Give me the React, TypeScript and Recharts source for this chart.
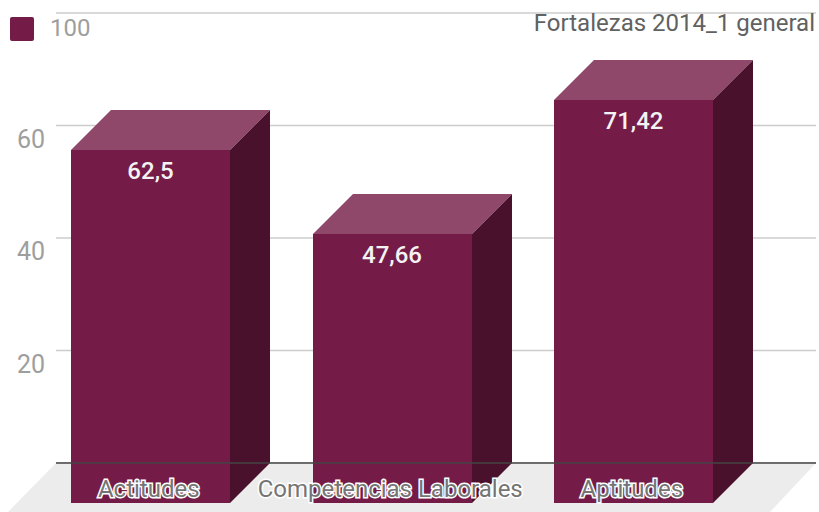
import { BarChart, Bar, XAxis, YAxis, CartesianGrid, LabelList, Legend } from 'recharts'

const categories = ['Actitudes', 'Competencias Laborales', 'Aptitudes']
const values = [62.5, 47.66, 71.42]
const yTicks = [0, 20, 40, 60, 80]
const yTickLabels = ['20', '40', '60']
const seriesName = '100'
const title = 'Fortalezas 2014_1 general'

const data = categories.map((name, i) => ({ name, value: values[i] }))

const FONT = 'Roboto, sans-serif'
const DEPTH = 40
const FRONT = '#741b47'
const TOP = '#8f476a'
const SIDE = '#4a112d'

// 3D look: the scale gives the back plane, front face is pushed down-left by DEPTH
function Bar3D({ x, y, width, height }: any) {
  // snap to whole pixels, otherwise a light seam shows between the faces
  const bx = Math.round(x)
  const by = Math.round(y) - 1
  const base = Math.round(y + height)
  const w = Math.round(width)
  const fx = bx - DEPTH
  const fy = by + DEPTH
  const r = fx + w
  return (
    <g>
      <polygon points={`${fx},${fy} ${bx},${by} ${bx + w},${by} ${r},${fy}`} fill={TOP} />
      <polygon points={`${r},${fy} ${bx + w},${by} ${bx + w},${base} ${r},${base + DEPTH}`} fill={SIDE} />
      <rect x={fx} y={fy} width={w} height={base - by} fill={FRONT} />
    </g>
  )
}

function ValueLabel({ x, y, width, value }: any) {
  return (
    <text
      x={x - DEPTH + width / 2}
      y={y + DEPTH + 28}
      textAnchor="middle"
      fontFamily={FONT}
      fontWeight={500}
      fontSize={24}
      fill="#f3f3f3"
    >
      {String(value).replace('.', ',')}
    </text>
  )
}

function CategoryTick({ x, payload }: any) {
  return (
    <text
      x={x - DEPTH - 2}
      y={463 + 34}
      textAnchor="middle"
      fontFamily={FONT}
      fontSize={24}
      fill="#757575"
      stroke="#ffffff"
      strokeWidth={3}
      paintOrder="stroke"
    >
      {payload.value}
    </text>
  )
}

function ValueTick({ y, payload }: any) {
  const label = String(payload.value)
  if (!yTickLabels.includes(label)) return null
  return (
    <text x={45} y={y + 22} textAnchor="end" fontFamily={FONT} fontSize={25} fill="#9e9e9e">
      {label}
    </text>
  )
}

function LegendBox() {
  return (
    <div style={{ position: 'relative', width: 100, height: 0 }}>
      <div style={{ position: 'absolute', left: 10, top: 17, width: 24, height: 24, borderRadius: 2, background: FRONT }} />
      <div style={{ position: 'absolute', left: 50, top: 15, fontFamily: FONT, fontSize: 24, lineHeight: '26px', color: '#9e9e9e' }}>
        {seriesName}
      </div>
    </div>
  )
}

export default function App() {
  return (
    <div style={{ position: 'absolute', left: 0, top: 0, width: 819, height: 512, overflow: 'hidden', background: '#fff' }}>
      <BarChart
        width={819}
        height={512}
        data={data}
        margin={{ top: 13, right: 3, bottom: 48, left: 0 }}
      >
        <polygon points="56,463 816,463 770,512 8,512" fill="#ececec" />
        <CartesianGrid vertical={false} stroke="#cccccc" strokeWidth={1.5} />
        <YAxis
          width={56}
          domain={[0, 80]}
          ticks={yTicks}
          interval={0}
          axisLine={false}
          tickLine={false}
          tick={<ValueTick />}
        />
        <Legend content={<LegendBox />} wrapperStyle={{ left: 0, top: 0, width: 100, height: 0 }} />
        <Bar dataKey="value" name={seriesName} barSize={159} shape={<Bar3D />} isAnimationActive={false}>
          <LabelList dataKey="value" content={<ValueLabel />} />
        </Bar>
        <XAxis
          dataKey="name"
          height={1}
          interval={0}
          padding={{ left: 14, right: 21.5 }}
          axisLine={{ stroke: '#444444', strokeWidth: 1.5 }}
          tickLine={false}
          tick={<CategoryTick />}
        />
        <text x={815} y={31} textAnchor="end" fontFamily={FONT} fontSize={24} fill="#616161">
          {title}
        </text>
      </BarChart>
    </div>
  )
}
